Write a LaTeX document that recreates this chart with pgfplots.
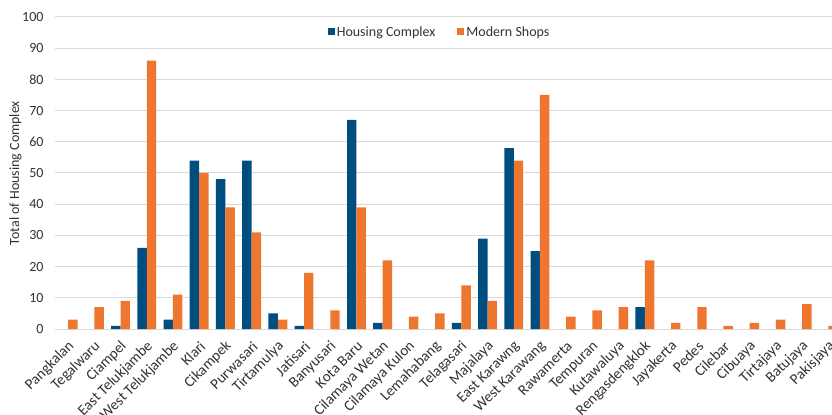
\documentclass[border=0pt]{standalone}
\usepackage{fontspec}
\setmainfont{Carlito}
\usepackage{pgfplots}
\pgfplotsset{compat=1.18}
\definecolor{hblue}{RGB}{0,77,128}
\definecolor{morange}{RGB}{238,118,47}
\definecolor{txt}{RGB}{50,50,50}
\definecolor{gridc}{RGB}{217,217,217}
\newcommand{\cf}{\fontsize{14bp}{16bp}\selectfont}
\newcommand{\xf}{\fontsize{15bp}{17bp}\selectfont}
\begin{document}
\begin{tikzpicture}
\begin{axis}[
  scale only axis, width=777bp, height=312bp,
  xmin=-0.5, xmax=29.14, ymin=0, ymax=100,
  ybar=0pt, bar width=0.36,
  axis line style={draw=none},
  major tick length=0pt,
  ymajorgrids, grid style={gridc, line width=1bp},
  ytick={0,10,...,100},
  xtick={0,...,29},
  xticklabels={Pangkalan,Tegalwaru,Ciampel,East Telukjambe,West Telukjambe,Klari,Cikampek,Purwasari,Tirtamulya,Jatisari,Banyusari,Kota Baru,Cilamaya Wetan,Cilamaya Kulon,Lemahabang,Telagasari,Majalaya,East Karawng,West Karawang,Rawamerta,Tempuran,Kutawaluya,Rengasdengklok,Jayakerta,Pedes,Cilebar,Cibuaya,Tirtajaya,Batujaya,Pakisjaya},
  /pgf/number format/assume math mode=true,
  tick label style={font=\cf, text=txt},
  xticklabel style={font=\xf, xshift=6bp, yshift=-12.5bp, rotate=45, anchor=east},
  yticklabel style={xshift=-8bp},
  ylabel={Total of Housing Complex},
  ylabel style={font=\cf, text=txt, at={(axis description cs:-0.0508,0.5)}, anchor=center},
  legend style={at={(axis description cs:0.495,0.952)}, anchor=center, draw=none, fill=none,
    legend columns=2, font=\cf, text=txt,
    /tikz/every even column/.append style={column sep=20bp}},
  legend image code/.code={\path[#1,draw=none] (0bp,-3.5bp) rectangle (7bp,3.5bp);},
]
\addplot[fill=hblue, draw=none] coordinates {
(2,1) (3,26) (4,3) (5,54) (6,48) (7,54) (8,5) (9,1) (11,67) (12,2) (15,2) (16,29) (17,58) (18,25) (22,7)};
\addlegendentry{Housing Complex}
\addplot[fill=morange, draw=none] coordinates {
(0,3) (1,7) (2,9) (3,86) (4,11) (5,50) (6,39) (7,31) (8,3) (9,18) (10,6) (11,39) (12,22) (13,4) (14,5) (15,14) (16,9) (17,54) (18,75) (19,4) (20,6) (21,7) (22,22) (23,2) (24,7) (25,1) (26,2) (27,3) (28,8) (29,1)};
\addlegendentry{Modern Shops}
\end{axis}
\pgfresetboundingbox
\path[use as bounding box] ([shift={(-55bp,-86bp)}]current axis.south west) rectangle ([shift={(777bp,329bp)}]current axis.south west);
\end{tikzpicture}
\end{document}
